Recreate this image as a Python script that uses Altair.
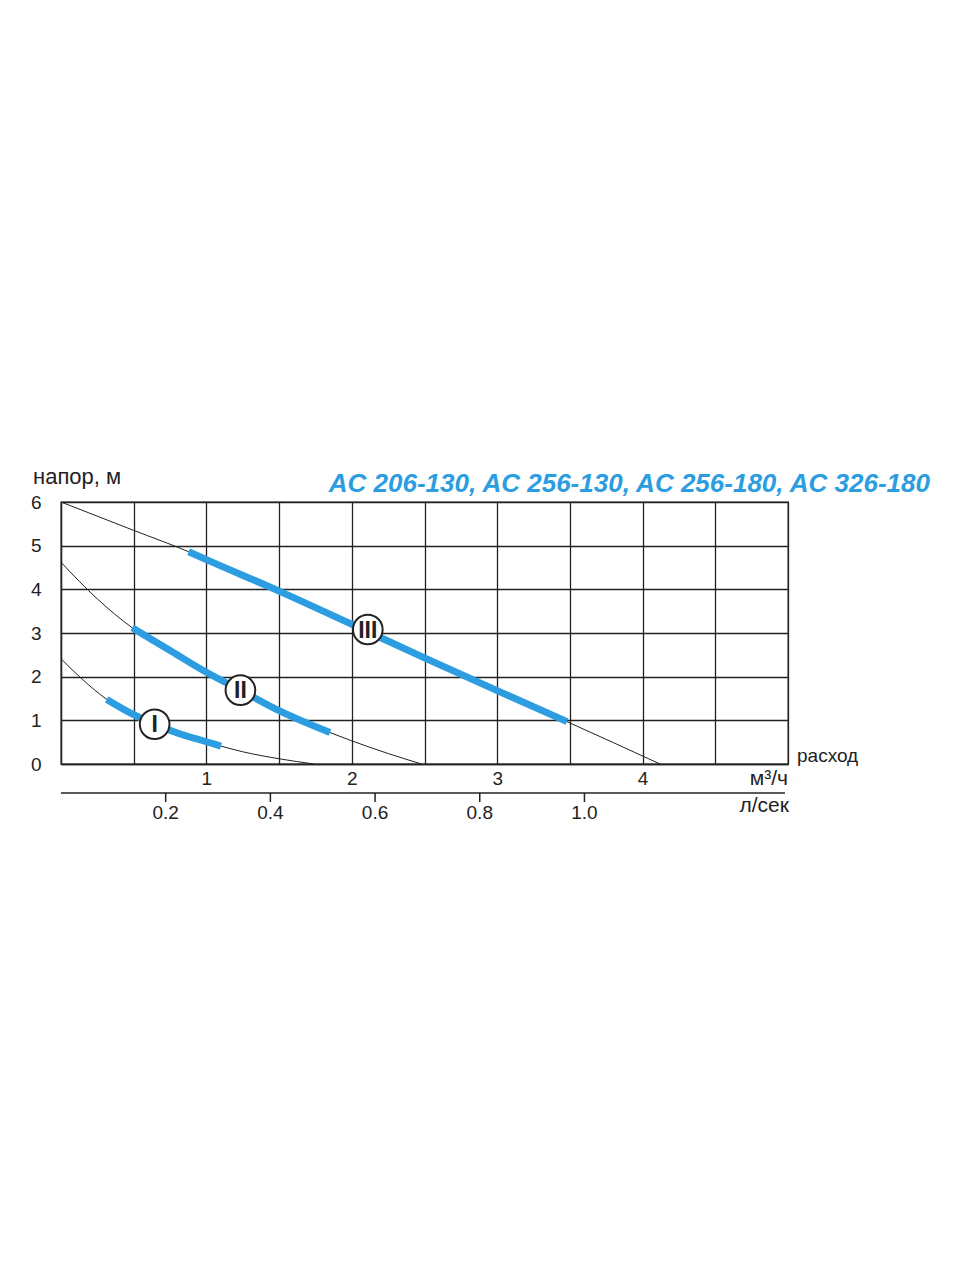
import altair as alt
import pandas as pd

# ---- data (x: m3/h, y: head, m) ----
C1_X = [0, 0.15, 0.315, 0.5, 0.644, 0.8, 1.0, 1.1, 1.25, 1.5, 1.74]
C1_Y = [2.41, 1.93, 1.48, 1.13, 0.91, 0.71, 0.51, 0.41, 0.28, 0.12, 0.0]
C2_X = [0, 0.25, 0.49, 0.75, 1.0, 1.234, 1.5, 1.85, 2.0, 2.25, 2.48]
C2_Y = [4.62, 3.78, 3.12, 2.60, 2.10, 1.69, 1.22, 0.72, 0.53, 0.24, 0.0]
C3_X = [0, 0.5, 0.878, 1.0, 1.5, 2.0, 2.5, 3.0, 3.48, 4.12]
C3_Y = [6.0, 5.35, 4.86, 4.68, 3.96, 3.20, 2.43, 1.68, 0.97, 0.0]

B1_X = [0.315, 0.5, 0.644, 0.8, 1.0, 1.1]
B1_Y = [1.48, 1.13, 0.91, 0.71, 0.51, 0.41]
B2_X = [0.49, 0.75, 1.0, 1.234, 1.5, 1.85]
B2_Y = [3.12, 2.60, 2.10, 1.69, 1.22, 0.72]
B3_X = [0.878, 1.0, 1.5, 2.0, 2.5, 3.0, 3.48]
B3_Y = [4.86, 4.68, 3.96, 3.20, 2.43, 1.68, 0.97]

LBL_X = [0.644, 1.234, 2.11]
LBL_Y = [0.91, 1.69, 3.08]
LBL_TXT = ["I", "II", "III"]

Y_TICKS = [0, 1, 2, 3, 4, 5, 6]
X_GRID = [0, 0.5, 1, 1.5, 2, 2.5, 3, 3.5, 4, 4.5, 5]
LPS_TICKS = [0.2, 0.4, 0.6, 0.8, 1.0]
LPS_LABELS = ["0.2", "0.4", "0.6", "0.8", "1.0"]

TITLE = "AC 206-130, AC 256-130, AC 256-180, AC 326-180"
Y_TITLE = "напор, м"
X_TITLE = "расход"
UNIT1 = "м³/ч"
UNIT2 = "л/сек"

W, H = 727, 262
BLUE = "#2b9de0"
INK = "#222222"
FONT = "Liberation Sans"

thin_df = pd.concat([
    pd.DataFrame({"x": C1_X, "y": C1_Y, "curve": "I"}),
    pd.DataFrame({"x": C2_X, "y": C2_Y, "curve": "II"}),
    pd.DataFrame({"x": C3_X, "y": C3_Y, "curve": "III"}),
])
blue_df = pd.concat([
    pd.DataFrame({"x": B1_X, "y": B1_Y, "curve": "I"}),
    pd.DataFrame({"x": B2_X, "y": B2_Y, "curve": "II"}),
    pd.DataFrame({"x": B3_X, "y": B3_Y, "curve": "III"}),
])
lbl_df = pd.DataFrame({"x": LBL_X, "y": LBL_Y, "t": LBL_TXT})
lps_df = pd.DataFrame({"lps": LPS_TICKS, "label": LPS_LABELS})
one = pd.DataFrame({"a": [0]})

x_axis = alt.Axis(values=X_GRID, title=None, grid=True, tickSize=0, labelPadding=5,
                  labelFlush=False, labelFontSize=19, labelColor=INK, labelFont=FONT,
                  gridColor=INK, gridWidth=1.3, gridOpacity=1, domainColor=INK, domainWidth=1.3,
                  labelExpr="(datum.value % 1 == 0 && datum.value > 0 && datum.value < 5) ? format(datum.value, 'd') : ''")
y_axis = alt.Axis(values=Y_TICKS, title=None, grid=True, tickSize=0, labelPadding=20,
                  labelFlush=False, labelFontSize=19, labelColor=INK, labelFont=FONT,
                  gridColor=INK, gridWidth=1.3, gridOpacity=1, domainColor=INK, domainWidth=1.3)
xs = alt.Scale(domain=[0, 5], nice=False)
ys = alt.Scale(domain=[0, 6], nice=False)

X = alt.X("x:Q", scale=xs, axis=x_axis)
Y = alt.Y("y:Q", scale=ys, axis=y_axis)

thin = alt.Chart(thin_df).mark_line(color=INK, strokeWidth=1, interpolate="monotone").encode(
    x=X, y=Y, detail="curve:N")
blue = alt.Chart(blue_df).mark_line(color=BLUE, strokeWidth=7, strokeCap="butt",
                                    interpolate="monotone").encode(x=X, y=Y, detail="curve:N")
circles = alt.Chart(lbl_df).mark_point(shape="circle", filled=True, fill="white", stroke=INK,
                                       strokeWidth=2, size=880, opacity=1).encode(x=X, y=Y)
nums = alt.Chart(lbl_df).mark_text(font=FONT, fontWeight="bold", fontSize=23, color=INK,
                                   baseline="middle", dy=1).encode(x=X, y=Y, text="t:N")

# secondary l/sec axis drawn through the same x scale (1 l/s = 3.6 m3/h)
lps_base = alt.Chart(lps_df).transform_calculate(x="datum.lps * 3.6")
lps_line = alt.Chart(one).mark_rule(color=INK, strokeWidth=1.3).encode(
    x=alt.value(0), x2=alt.value(724), y=alt.value(H + 29))
lps_ticks = lps_base.mark_rule(color=INK, strokeWidth=1.5).encode(
    x=X, y=alt.value(H + 29), y2=alt.value(H + 38))
lps_lbls = lps_base.mark_text(font=FONT, fontSize=19, color=INK, baseline="middle").encode(
    x=X, y=alt.value(H + 49), text="label:N")

def label(txt, x, y, align="left", size=19, color=INK, weight="normal", italic=False):
    return alt.Chart(one).mark_text(text=txt, font=FONT, fontSize=size, color=color,
                                    align=align, baseline="middle", fontWeight=weight,
                                    fontStyle="italic" if italic else "normal").encode(
        x=alt.value(x), y=alt.value(y))

texts = [
    label(TITLE, 869, -18, align="right", size=26, color=BLUE, weight="bold", italic=True),
    label(Y_TITLE, -28, -25, align="left", size=22),
    label(X_TITLE, 736, -8 + H, align="left", size=19),
    label(UNIT1, 727, H + 15, align="right", size=21),
    label(UNIT2, 728, H + 42, align="right", size=21),
]

chart = alt.layer(thin, blue, circles, nums, lps_line, lps_ticks, lps_lbls, *texts).properties(
    width=W, height=H,
    autosize=alt.AutoSizeParams(type="none"),
    padding={"left": 53, "top": 494, "right": 150, "bottom": 80},
).configure(font=FONT, background="white").configure_axis(
    gridColor=INK, gridWidth=1.3, gridOpacity=1, domainColor=INK, domainWidth=1.3
).configure_view(stroke=INK, strokeWidth=1.3)

chart.save("out.html", embed_options={"renderer": "svg", "actions": False})
